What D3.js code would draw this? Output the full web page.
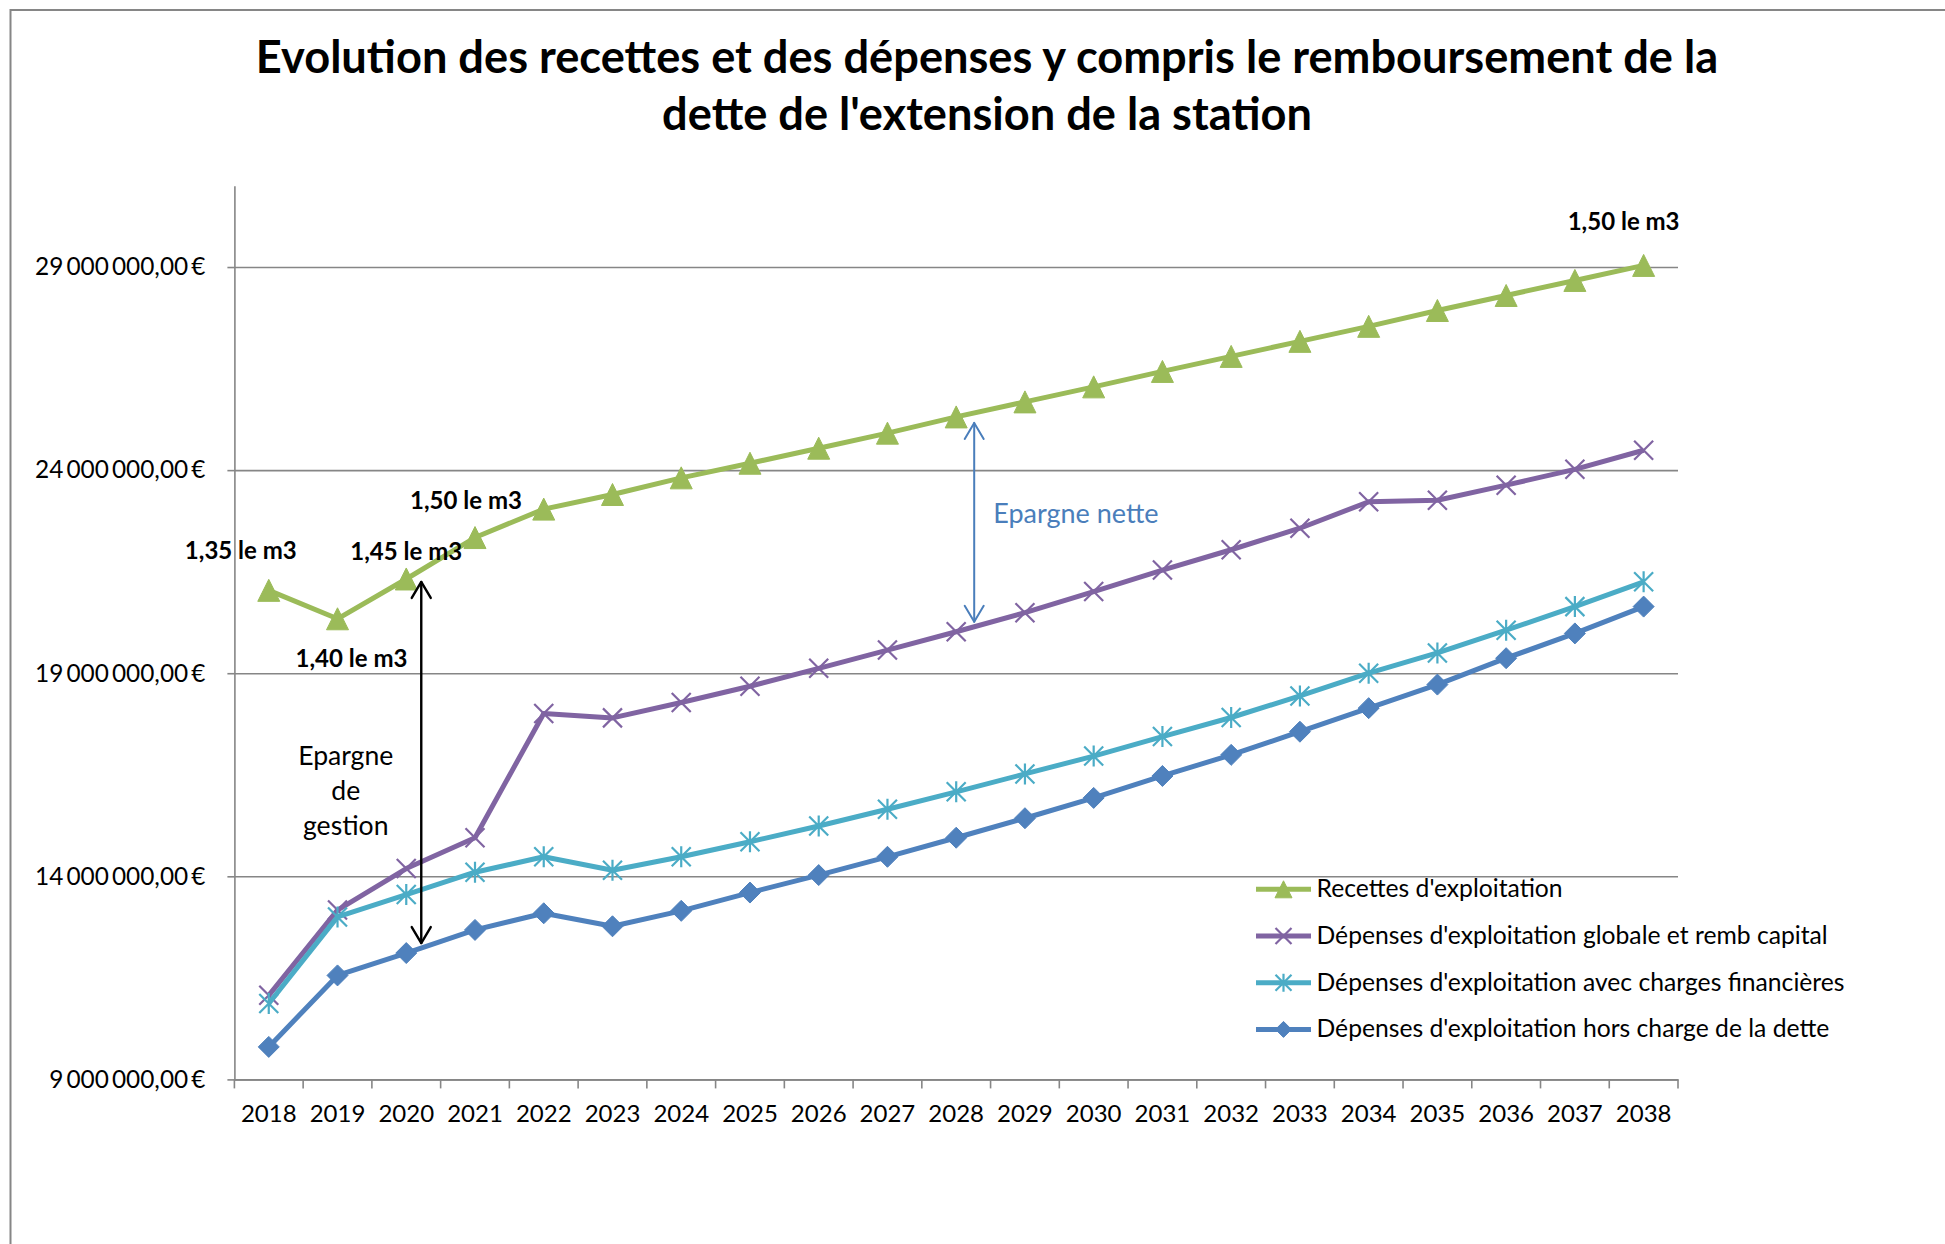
<!DOCTYPE html>
<html>
<head>
<meta charset="utf-8">
<script src="https://cdn.jsdelivr.net/npm/d3@7"></script>
<style>
  html, body { margin: 0; padding: 0; background: #fff; }
  svg { display: block; font-family: Lato, "Open Sans", sans-serif; }
</style>
</head>
<body>
<svg id="chart" width="1945" height="1244"></svg>
<script>
// ==== DATA ====
const years = ["2018", "2019", "2020", "2021", "2022", "2023", "2024", "2025", "2026", "2027",
  "2028", "2029", "2030", "2031", "2032", "2033", "2034", "2035", "2036", "2037", "2038"];

// en euros
const recettes = [21040000, 20340000, 21320000, 22340000, 23040000, 23400000, 23810000, 24170000,
  24540000, 24910000, 25310000, 25680000, 26050000, 26430000, 26800000, 27170000, 27540000,
  27930000, 28300000, 28670000, 29040000];
const depGlobale = [11070000, 13170000, 14190000, 14950000, 18010000, 17900000, 18280000, 18680000,
  19120000, 19570000, 20020000, 20490000, 21010000, 21540000, 22040000, 22570000, 23220000,
  23260000, 23630000, 24020000, 24490000];
const depFinancieres = [10870000, 13000000, 13550000, 14100000, 14480000, 14150000, 14480000, 14850000,
  15240000, 15650000, 16080000, 16520000, 16960000, 17440000, 17910000, 18440000, 19000000,
  19500000, 20060000, 20640000, 21250000];
const depHorsDette = [9800000, 11560000, 12110000, 12680000, 13090000, 12770000, 13150000, 13600000,
  14030000, 14480000, 14950000, 15430000, 15930000, 16470000, 16990000, 17560000, 18140000,
  18720000, 19370000, 19980000, 20640000];

const seriesNames = [
  "Recettes d'exploitation",
  "Dépenses d'exploitation globale et remb capital",
  "Dépenses d'exploitation avec charges financières",
  "Dépenses d'exploitation hors charge de la dette"
];

const yTicks = [9000000, 14000000, 19000000, 24000000, 29000000];

const priceLabels = [
  { year: "2018", text: "1,35 le m3" },
  { year: "2019", text: "1,40 le m3" },
  { year: "2020", text: "1,45 le m3" },
  { year: "2021", text: "1,50 le m3" },
  { year: "2038", text: "1,50 le m3" }
];

const titleLines = [
  "Evolution des recettes et des dépenses y compris le remboursement de la",
  "dette de l'extension de la station"
];

// ==== LAYOUT ====
const plot = { left: 234.4, right: 1678, top: 185.8, bottom: 1079.4 };
const GRID = "#868686";
const TXT = "#000";

const series = [
  { name: seriesNames[0], values: recettes,       color: "#9BBB59", marker: "triangle" },
  { name: seriesNames[1], values: depGlobale,     color: "#8064A2", marker: "x" },
  { name: seriesNames[2], values: depFinancieres, color: "#4BACC6", marker: "star" },
  { name: seriesNames[3], values: depHorsDette,   color: "#4F81BD", marker: "diamond" }
];

// décalages des étiquettes de prix par rapport au point
const labelOffsets = {
  "2018": [-28, -31], "2019": [14, 48], "2020": [0, -19], "2021": [-9, -29], "2038": [-20, -35]
};

const svg = d3.select("#chart");

const x = d3.scaleBand().domain(years).range([plot.left, plot.right]).padding(0);
const cx = yr => x(yr) + x.bandwidth() / 2;
const y = d3.scaleLinear().domain([9000000, 31000000]).range([plot.bottom, plot.top]);

const frLocale = d3.formatLocale({
  decimal: ",", thousands: "\u2009", grouping: [3], currency: ["", "\u2009€"]
});
const fmtEuro = frLocale.format("$,.2f");

// cadre du graphique
svg.append("rect")
  .attr("x", 10.5).attr("y", 10)
  .attr("width", 2000).attr("height", 1400)
  .attr("fill", "#fff")
  .attr("stroke", GRID)
  .attr("stroke-width", 2);

// titre
svg.append("g").selectAll("text")
  .data(titleLines)
  .join("text")
  .attr("x", 987)
  .attr("y", (d, i) => 73 + i * 57)
  .attr("text-anchor", "middle")
  .attr("font-size", 45.2)
  .attr("font-weight", 700)
  .attr("fill", TXT)
  .text(d => d);

// quadrillage
svg.append("g")
  .attr("transform", `translate(${plot.left},0)`)
  .call(d3.axisLeft(y).tickValues(yTicks).tickSize(-(plot.right - plot.left)).tickFormat(""))
  .call(g => g.select(".domain").remove())
  .call(g => g.selectAll(".tick line").attr("stroke", GRID).attr("stroke-width", 1.6));

// axe Y
svg.append("g")
  .attr("transform", `translate(${plot.left},0)`)
  .call(d3.axisLeft(y).tickValues(yTicks).tickSize(7).tickSizeOuter(0).tickPadding(22).tickFormat(fmtEuro))
  .call(g => g.select(".domain").attr("stroke", GRID).attr("stroke-width", 1.6))
  .call(g => g.selectAll(".tick line").attr("stroke", GRID).attr("stroke-width", 1.6))
  .call(g => g.selectAll(".tick text")
    .attr("font-family", "Lato, sans-serif")
    .attr("font-size", 24.4)
    .attr("fill", TXT));

// axe X
const xAxis = svg.append("g")
  .attr("transform", `translate(0,${plot.bottom})`)
  .call(d3.axisBottom(x).tickSize(0).tickSizeOuter(0).tickPadding(25.5))
  .call(g => g.select(".domain").attr("stroke", GRID).attr("stroke-width", 1.6))
  .call(g => g.selectAll(".tick text")
    .attr("font-family", "Lato, sans-serif")
    .attr("font-size", 24)
    .attr("fill", TXT));

// graduations entre les catégories
xAxis.append("g").selectAll("line")
  .data(years.map(yr => x(yr)).concat([plot.right]))
  .join("line")
  .attr("x1", d => d).attr("x2", d => d)
  .attr("y1", 0).attr("y2", 9)
  .attr("stroke", GRID)
  .attr("stroke-width", 1.6);

// ==== MARQUEURS ====
function markerPath(type, s) {
  const h = s / 2;
  if (type === "triangle") return `M0,${-h}L${h},${h}L${-h},${h}Z`;
  if (type === "diamond") return `M0,${-h}L${h},0L0,${h}L${-h},0Z`;
  if (type === "x") return `M${-h},${-h}L${h},${h}M${h},${-h}L${-h},${h}`;
  // étoile : croix + trait vertical
  return `M${-h},${-h}L${h},${h}M${h},${-h}L${-h},${h}M0,${-h - 1}L0,${h + 1}`;
}

function drawMarker(g, type, size, color) {
  const filled = type === "triangle" || type === "diamond";
  g.append("path")
    .attr("d", markerPath(type, size))
    .attr("fill", filled ? color : "none")
    .attr("stroke", color)
    .attr("stroke-width", filled ? 1 : 2.2);
}

// ==== SÉRIES ====
const line = d3.line()
  .x((d, i) => cx(years[i]))
  .y(d => y(d));

const seriesG = svg.append("g");
series.forEach(s => {
  const g = seriesG.append("g");
  g.append("path")
    .datum(s.values)
    .attr("d", line)
    .attr("fill", "none")
    .attr("stroke", s.color)
    .attr("stroke-width", 5)
    .attr("stroke-linejoin", "round");

  const size = s.marker === "triangle" ? 22 : (s.marker === "diamond" ? 21 : 19);
  g.selectAll("g.pt")
    .data(s.values)
    .join("g")
    .attr("class", "pt")
    .attr("transform", (d, i) => `translate(${cx(years[i])},${y(d)})`)
    .each(function() { drawMarker(d3.select(this), s.marker, size, s.color); });
});

// étiquettes de prix
svg.append("g").selectAll("text")
  .data(priceLabels)
  .join("text")
  .attr("x", d => cx(d.year) + labelOffsets[d.year][0])
  .attr("y", d => y(recettes[years.indexOf(d.year)]) + labelOffsets[d.year][1])
  .attr("text-anchor", "middle")
  .attr("font-size", 24)
  .attr("font-weight", 700)
  .attr("fill", TXT)
  .text(d => d.text);

// ==== FLÈCHES ====
function doubleArrow(x0, yTop, yBot, color, width) {
  const g = svg.append("g")
    .attr("stroke", color)
    .attr("stroke-width", width)
    .attr("fill", "none")
    .attr("stroke-linecap", "round")
    .attr("stroke-linejoin", "round");
  g.append("line").attr("x1", x0).attr("x2", x0).attr("y1", yTop).attr("y2", yBot);
  g.append("path").attr("d", `M${x0 - 9.5},${yTop + 16}L${x0},${yTop}L${x0 + 9.5},${yTop + 16}`);
  g.append("path").attr("d", `M${x0 - 9.5},${yBot - 16}L${x0},${yBot}L${x0 + 9.5},${yBot - 16}`);
}

// épargne de gestion : recettes - dépenses hors dette (2020)
const i2020 = years.indexOf("2020");
const gestX = cx("2020") + 15;
doubleArrow(gestX, y(recettes[i2020]) + 3, y(depHorsDette[i2020]) - 10, "#000", 2.4);

svg.append("g").selectAll("text")
  .data(["Epargne", "de", "gestion"])
  .join("text")
  .attr("x", gestX - 75.5)
  .attr("y", (d, i) => 765 + i * 35)
  .attr("text-anchor", "middle")
  .attr("font-size", 26.6)
  .attr("fill", TXT)
  .text(d => d);

// épargne nette : recettes - dépenses globales (2028)
const i2028 = years.indexOf("2028");
const netX = cx("2028") + 18;
doubleArrow(netX, y(recettes[i2028]) + 6, y(depGlobale[i2028]) - 10, "#4A7EBB", 2);

svg.append("text")
  .attr("x", netX + 19)
  .attr("y", 523)
  .attr("font-size", 27)
  .attr("fill", "#4A7EBB")
  .text("Epargne nette");

// ==== LÉGENDE ====
const legend = svg.append("g").attr("transform", "translate(1256,889.3)");
series.forEach((s, i) => {
  const row = legend.append("g").attr("transform", `translate(0,${i * 46.7})`);
  row.append("line")
    .attr("x1", 0).attr("x2", 55)
    .attr("stroke", s.color)
    .attr("stroke-width", 5);
  const m = row.append("g").attr("transform", "translate(27.5,0)");
  drawMarker(m, s.marker, s.marker === "triangle" ? 17 : 16, s.color);
  row.append("text")
    .attr("x", 60.5)
    .attr("y", 8)
    .attr("font-size", 24.7)
    .attr("fill", TXT)
    .text(s.name);
});
</script>
</body>
</html>
